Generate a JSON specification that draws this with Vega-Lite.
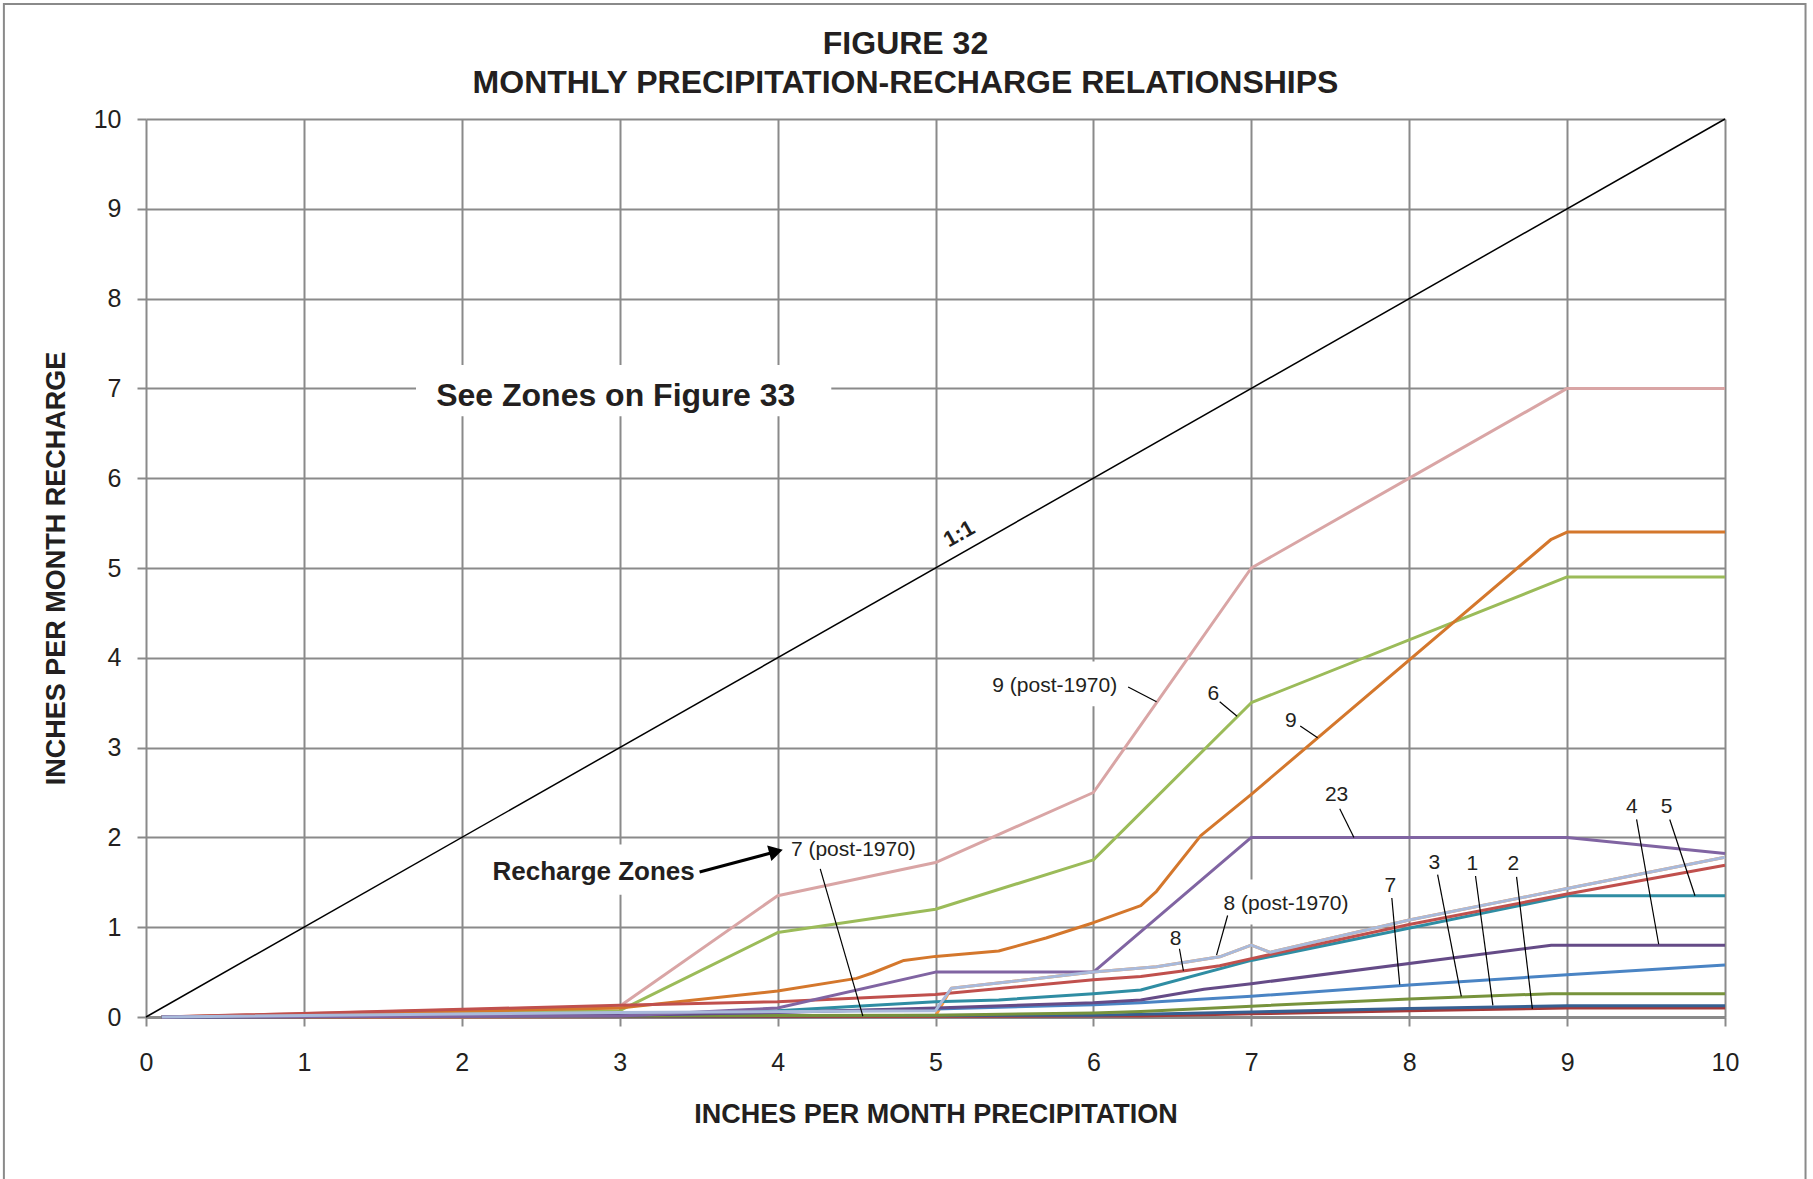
{
  "$schema": "https://vega.github.io/schema/vega-lite/v6.json",
  "width": 1579,
  "height": 898,
  "autosize": {"type": "none"},
  "padding": {"left": 146, "top": 119, "right": 88, "bottom": 162},
  "background": "white",
  "title": {
    "text": ["FIGURE 32", "MONTHLY PRECIPITATION-RECHARGE RELATIONSHIPS"],
    "font": "Liberation Sans",
    "fontSize": 32,
    "fontWeight": "bold",
    "lineHeight": 39,
    "color": "#231f20",
    "anchor": "middle",
    "baseline": "bottom",
    "dx": -30,
    "offset": -129
  },
  "config": {
    "view": {"stroke": null},
    "font": "Liberation Sans",
    "axis": {
      "grid": true,
      "gridColor": "#8a8a8a",
      "gridWidth": 2,
      "tickColor": "#8a8a8a",
      "tickWidth": 2,
      "tickSize": 9,
      "labelFontSize": 25,
      "labelColor": "#231f20",
      "labelFont": "Liberation Sans",
      "titleFont": "Liberation Sans",
      "titleFontSize": 27,
      "titleFontWeight": "bold",
      "titleColor": "#231f20",
      "labelFlush": false,
      "labelOverlap": false
    }
  },
  "datasets": {
    "curves": [
      {"zone": "7 (post-1970)", "precipitation": 0.1, "recharge": 0},
      {"zone": "7 (post-1970)", "precipitation": 3, "recharge": 0.005},
      {"zone": "7 (post-1970)", "precipitation": 5, "recharge": 0.01},
      {"zone": "7 (post-1970)", "precipitation": 5.1, "recharge": 0.32},
      {"zone": "7 (post-1970)", "precipitation": 6, "recharge": 0.5},
      {"zone": "7 (post-1970)", "precipitation": 6.4, "recharge": 0.56},
      {"zone": "7 (post-1970)", "precipitation": 6.8, "recharge": 0.67},
      {"zone": "7 (post-1970)", "precipitation": 7, "recharge": 0.8},
      {"zone": "7 (post-1970)", "precipitation": 7.12, "recharge": 0.72},
      {"zone": "7 (post-1970)", "precipitation": 8, "recharge": 1.08},
      {"zone": "7 (post-1970)", "precipitation": 9, "recharge": 1.43},
      {"zone": "7 (post-1970)", "precipitation": 10, "recharge": 1.78},

      {"zone": "9 (post-1970)", "precipitation": 0.1, "recharge": 0},
      {"zone": "9 (post-1970)", "precipitation": 3, "recharge": 0.12},
      {"zone": "9 (post-1970)", "precipitation": 4, "recharge": 1.35},
      {"zone": "9 (post-1970)", "precipitation": 5, "recharge": 1.72},
      {"zone": "9 (post-1970)", "precipitation": 6, "recharge": 2.5},
      {"zone": "9 (post-1970)", "precipitation": 7, "recharge": 5.0},
      {"zone": "9 (post-1970)", "precipitation": 9, "recharge": 7.0},
      {"zone": "9 (post-1970)", "precipitation": 10, "recharge": 7.0},

      {"zone": "6", "precipitation": 0.1, "recharge": 0},
      {"zone": "6", "precipitation": 3, "recharge": 0.07},
      {"zone": "6", "precipitation": 4, "recharge": 0.94},
      {"zone": "6", "precipitation": 5, "recharge": 1.2},
      {"zone": "6", "precipitation": 6, "recharge": 1.75},
      {"zone": "6", "precipitation": 7, "recharge": 3.5},
      {"zone": "6", "precipitation": 9, "recharge": 4.9},
      {"zone": "6", "precipitation": 10, "recharge": 4.9},

      {"zone": "9", "precipitation": 0.1, "recharge": 0},
      {"zone": "9", "precipitation": 3, "recharge": 0.1},
      {"zone": "9", "precipitation": 4, "recharge": 0.29},
      {"zone": "9", "precipitation": 4.5, "recharge": 0.43},
      {"zone": "9", "precipitation": 4.6, "recharge": 0.49},
      {"zone": "9", "precipitation": 4.8, "recharge": 0.63},
      {"zone": "9", "precipitation": 5, "recharge": 0.675},
      {"zone": "9", "precipitation": 5.4, "recharge": 0.735},
      {"zone": "9", "precipitation": 5.7, "recharge": 0.88},
      {"zone": "9", "precipitation": 6, "recharge": 1.05},
      {"zone": "9", "precipitation": 6.3, "recharge": 1.24},
      {"zone": "9", "precipitation": 6.4, "recharge": 1.4},
      {"zone": "9", "precipitation": 6.68, "recharge": 2.02},
      {"zone": "9", "precipitation": 7, "recharge": 2.48},
      {"zone": "9", "precipitation": 8.9, "recharge": 5.32},
      {"zone": "9", "precipitation": 9, "recharge": 5.4},
      {"zone": "9", "precipitation": 10, "recharge": 5.4},

      {"zone": "2", "precipitation": 0.1, "recharge": 0},
      {"zone": "2", "precipitation": 6, "recharge": 0.01},
      {"zone": "2", "precipitation": 6.3, "recharge": 0.012},
      {"zone": "2", "precipitation": 7, "recharge": 0.035},
      {"zone": "2", "precipitation": 8, "recharge": 0.07},
      {"zone": "2", "precipitation": 9, "recharge": 0.1},
      {"zone": "2", "precipitation": 10, "recharge": 0.1},

      {"zone": "1", "precipitation": 0.1, "recharge": 0},
      {"zone": "1", "precipitation": 6, "recharge": 0.02},
      {"zone": "1", "precipitation": 7, "recharge": 0.055},
      {"zone": "1", "precipitation": 8, "recharge": 0.096},
      {"zone": "1", "precipitation": 9, "recharge": 0.126},
      {"zone": "1", "precipitation": 10, "recharge": 0.126},

      {"zone": "3", "precipitation": 0.1, "recharge": 0},
      {"zone": "3", "precipitation": 5, "recharge": 0.02},
      {"zone": "3", "precipitation": 6, "recharge": 0.045},
      {"zone": "3", "precipitation": 6.3, "recharge": 0.06},
      {"zone": "3", "precipitation": 7, "recharge": 0.12},
      {"zone": "3", "precipitation": 8, "recharge": 0.2},
      {"zone": "3", "precipitation": 8.9, "recharge": 0.26},
      {"zone": "3", "precipitation": 10, "recharge": 0.26},

      {"zone": "7", "precipitation": 0.1, "recharge": 0},
      {"zone": "7", "precipitation": 3, "recharge": 0.02},
      {"zone": "7", "precipitation": 5, "recharge": 0.09},
      {"zone": "7", "precipitation": 6, "recharge": 0.137},
      {"zone": "7", "precipitation": 6.3, "recharge": 0.16},
      {"zone": "7", "precipitation": 7, "recharge": 0.23},
      {"zone": "7", "precipitation": 8, "recharge": 0.356},
      {"zone": "7", "precipitation": 9, "recharge": 0.47},
      {"zone": "7", "precipitation": 10, "recharge": 0.58},

      {"zone": "5", "precipitation": 0.1, "recharge": 0},
      {"zone": "5", "precipitation": 3, "recharge": 0.03},
      {"zone": "5", "precipitation": 4, "recharge": 0.07},
      {"zone": "5", "precipitation": 5, "recharge": 0.17},
      {"zone": "5", "precipitation": 5.4, "recharge": 0.19},
      {"zone": "5", "precipitation": 6, "recharge": 0.26},
      {"zone": "5", "precipitation": 6.3, "recharge": 0.3},
      {"zone": "5", "precipitation": 7, "recharge": 0.63},
      {"zone": "5", "precipitation": 9, "recharge": 1.35},
      {"zone": "5", "precipitation": 10, "recharge": 1.35},

      {"zone": "8", "precipitation": 0.1, "recharge": 0},
      {"zone": "8", "precipitation": 3, "recharge": 0.13},
      {"zone": "8", "precipitation": 4, "recharge": 0.17},
      {"zone": "8", "precipitation": 5, "recharge": 0.25},
      {"zone": "8", "precipitation": 6, "recharge": 0.415},
      {"zone": "8", "precipitation": 6.3, "recharge": 0.45},
      {"zone": "8", "precipitation": 6.6, "recharge": 0.52},
      {"zone": "8", "precipitation": 6.8, "recharge": 0.57},
      {"zone": "8", "precipitation": 7, "recharge": 0.65},
      {"zone": "8", "precipitation": 8, "recharge": 1.03},
      {"zone": "8", "precipitation": 9, "recharge": 1.37},
      {"zone": "8", "precipitation": 10, "recharge": 1.69},

      {"zone": "4", "precipitation": 0.1, "recharge": 0},
      {"zone": "4", "precipitation": 3, "recharge": 0.02},
      {"zone": "4", "precipitation": 4, "recharge": 0.05},
      {"zone": "4", "precipitation": 5, "recharge": 0.1},
      {"zone": "4", "precipitation": 6, "recharge": 0.16},
      {"zone": "4", "precipitation": 6.3, "recharge": 0.19},
      {"zone": "4", "precipitation": 6.7, "recharge": 0.31},
      {"zone": "4", "precipitation": 7, "recharge": 0.37},
      {"zone": "4", "precipitation": 8.9, "recharge": 0.8},
      {"zone": "4", "precipitation": 10, "recharge": 0.8},

      {"zone": "23", "precipitation": 0.1, "recharge": 0},
      {"zone": "23", "precipitation": 3, "recharge": 0.01},
      {"zone": "23", "precipitation": 4, "recharge": 0.1},
      {"zone": "23", "precipitation": 5, "recharge": 0.5},
      {"zone": "23", "precipitation": 6, "recharge": 0.5},
      {"zone": "23", "precipitation": 7, "recharge": 2.0},
      {"zone": "23", "precipitation": 9, "recharge": 2.0},
      {"zone": "23", "precipitation": 10, "recharge": 1.82},

      {"zone": "8 (post-1970)", "precipitation": 0.1, "recharge": 0},
      {"zone": "8 (post-1970)", "precipitation": 3, "recharge": 0.05},
      {"zone": "8 (post-1970)", "precipitation": 5, "recharge": 0.07},
      {"zone": "8 (post-1970)", "precipitation": 5.1, "recharge": 0.32},
      {"zone": "8 (post-1970)", "precipitation": 6, "recharge": 0.5},
      {"zone": "8 (post-1970)", "precipitation": 6.4, "recharge": 0.56},
      {"zone": "8 (post-1970)", "precipitation": 6.8, "recharge": 0.67},
      {"zone": "8 (post-1970)", "precipitation": 7, "recharge": 0.8},
      {"zone": "8 (post-1970)", "precipitation": 7.12, "recharge": 0.72},
      {"zone": "8 (post-1970)", "precipitation": 8, "recharge": 1.08},
      {"zone": "8 (post-1970)", "precipitation": 9, "recharge": 1.43},
      {"zone": "8 (post-1970)", "precipitation": 10, "recharge": 1.78}
    ],
    "oneToOne": [
      {"precipitation": 0, "recharge": 0},
      {"precipitation": 10, "recharge": 10}
    ],
    "frame": [
      {"precipitation": -0.9, "precipitation2": 10.51, "recharge": -2.2, "recharge2": 11.28}
    ],
    "labelBoxes": [
      {"label": "See Zones on Figure 33", "precipitation": 1.71, "precipitation2": 4.34, "recharge": 6.69, "recharge2": 7.26},
      {"label": "Recharge Zones", "precipitation": 2.12, "precipitation2": 3.48, "recharge": 1.36, "recharge2": 1.92},
      {"label": "9 (post-1970)", "precipitation": 5.3, "precipitation2": 6.21, "recharge": 3.46, "recharge2": 3.96},
      {"label": "8 (post-1970)", "precipitation": 6.8, "precipitation2": 7.66, "recharge": 1.03, "recharge2": 1.53}
    ],
    "leaders": [
      {"label": "9 (post-1970)", "precipitation": 6.22, "recharge": 3.675, "precipitation2": 6.4, "recharge2": 3.51},
      {"label": "6", "precipitation": 6.8, "recharge": 3.51, "precipitation2": 6.91, "recharge2": 3.35},
      {"label": "9", "precipitation": 7.31, "recharge": 3.24, "precipitation2": 7.42, "recharge2": 3.11},
      {"label": "23", "precipitation": 7.56, "recharge": 2.32, "precipitation2": 7.65, "recharge2": 2.0},
      {"label": "4", "precipitation": 9.44, "recharge": 2.2, "precipitation2": 9.58, "recharge2": 0.81},
      {"label": "5", "precipitation": 9.65, "recharge": 2.2, "precipitation2": 9.81, "recharge2": 1.35},
      {"label": "3", "precipitation": 8.18, "recharge": 1.585, "precipitation2": 8.33, "recharge2": 0.23},
      {"label": "1", "precipitation": 8.42, "recharge": 1.57, "precipitation2": 8.53, "recharge2": 0.13},
      {"label": "2", "precipitation": 8.68, "recharge": 1.56, "precipitation2": 8.78, "recharge2": 0.09},
      {"label": "7", "precipitation": 7.89, "recharge": 1.325, "precipitation2": 7.94, "recharge2": 0.36},
      {"label": "8 (post-1970)", "precipitation": 6.85, "recharge": 1.13, "precipitation2": 6.78, "recharge2": 0.69},
      {"label": "8", "precipitation": 6.545, "recharge": 0.76, "precipitation2": 6.57, "recharge2": 0.515},
      {"label": "7 (post-1970)", "precipitation": 4.27, "recharge": 1.65, "precipitation2": 4.54, "recharge2": 0.01}
    ],
    "arrowShaft": [
      {"precipitation": 3.506, "recharge": 1.615, "precipitation2": 3.97, "recharge2": 1.832}
    ],
    "arrowHead": [
      {"precipitation": 3.99, "recharge": 1.843}
    ],
    "zoneLabels": [
      {"text": "9 (post-1970)", "precipitation": 5.755, "recharge": 3.69},
      {"text": "6", "precipitation": 6.76, "recharge": 3.6},
      {"text": "9", "precipitation": 7.25, "recharge": 3.3},
      {"text": "23", "precipitation": 7.54, "recharge": 2.475},
      {"text": "7 (post-1970)", "precipitation": 4.48, "recharge": 1.86},
      {"text": "8 (post-1970)", "precipitation": 7.22, "recharge": 1.26},
      {"text": "8", "precipitation": 6.52, "recharge": 0.87},
      {"text": "7", "precipitation": 7.88, "recharge": 1.46},
      {"text": "3", "precipitation": 8.16, "recharge": 1.71},
      {"text": "1", "precipitation": 8.4, "recharge": 1.7},
      {"text": "2", "precipitation": 8.66, "recharge": 1.7},
      {"text": "4", "precipitation": 9.41, "recharge": 2.34},
      {"text": "5", "precipitation": 9.63, "recharge": 2.34}
    ],
    "notes": [
      {"text": "See Zones on Figure 33", "precipitation": 2.975, "recharge": 6.91},
      {"text": "Recharge Zones", "precipitation": 2.835, "recharge": 1.62}
    ],
    "ratioLabel": [
      {"text": "1:1", "precipitation": 5.15, "recharge": 5.38}
    ]
  },
  "encoding": {
    "x": {
      "field": "precipitation",
      "type": "quantitative",
      "scale": {"domain": [0, 10], "nice": false, "zero": false},
      "axis": {
        "title": "INCHES PER MONTH PRECIPITATION",
        "values": [0, 1, 2, 3, 4, 5, 6, 7, 8, 9, 10],
        "labelPadding": 24,
        "titlePadding": 26,
        "domainColor": "#8a8a8a",
        "domainWidth": 3
      }
    },
    "y": {
      "field": "recharge",
      "type": "quantitative",
      "scale": {"domain": [0, 10], "nice": false, "zero": false},
      "axis": {
        "title": "INCHES PER MONTH RECHARGE",
        "values": [0, 1, 2, 3, 4, 5, 6, 7, 8, 9, 10],
        "labelPadding": 16,
        "titlePadding": 23,
        "domain": false
      }
    }
  },
  "layer": [
    {
      "data": {"name": "frame"},
      "mark": {"type": "rect", "fill": null, "stroke": "#8a8a8a", "strokeWidth": 2},
      "encoding": {
        "x2": {"field": "precipitation2"},
        "y2": {"field": "recharge2"}
      }
    },
    {
      "data": {"name": "labelBoxes"},
      "mark": {"type": "rect", "fill": "white", "stroke": null},
      "encoding": {
        "x2": {"field": "precipitation2"},
        "y2": {"field": "recharge2"}
      }
    },
    {
      "data": {"name": "oneToOne"},
      "mark": {"type": "line", "color": "black", "strokeWidth": 1.5},
      "encoding": {}
    },
    {
      "data": {"name": "curves"},
      "mark": {"type": "line", "strokeWidth": 3, "strokeJoin": "round"},
      "encoding": {
        "color": {
          "field": "zone",
          "type": "nominal",
          "legend": null,
          "scale": {
            "domain": ["7 (post-1970)", "9 (post-1970)", "6", "9", "2", "1", "3", "7", "5", "8", "4", "23", "8 (post-1970)"],
            "range": ["#f7963f", "#d9a5a5", "#9bbb59", "#d4772c", "#a53a3a", "#366092", "#77933c", "#4a84c4", "#2f8da3", "#c0504d", "#654b87", "#8064a2", "#a9badb"]
          }
        }
      }
    },
    {
      "data": {"name": "leaders"},
      "mark": {"type": "rule", "color": "black", "strokeWidth": 1.2},
      "encoding": {
        "x2": {"field": "precipitation2"},
        "y2": {"field": "recharge2"}
      }
    },
    {
      "data": {"name": "arrowShaft"},
      "mark": {"type": "rule", "color": "black", "strokeWidth": 3},
      "encoding": {
        "x2": {"field": "precipitation2"},
        "y2": {"field": "recharge2"}
      }
    },
    {
      "data": {"name": "arrowHead"},
      "mark": {"type": "point", "shape": "triangle-right", "filled": true, "color": "black", "size": 260, "angle": -15, "opacity": 1},
      "encoding": {}
    },
    {
      "data": {"name": "zoneLabels"},
      "mark": {"type": "text", "fontSize": 21, "color": "#231f20", "align": "center", "baseline": "middle", "font": "Liberation Sans"},
      "encoding": {"text": {"field": "text"}}
    },
    {
      "data": {"name": "notes"},
      "mark": {"type": "text", "fontWeight": "bold", "color": "#231f20", "align": "center", "baseline": "middle", "font": "Liberation Sans"},
      "encoding": {
        "text": {"field": "text"},
        "size": {"field": "text", "type": "nominal", "legend": null, "scale": {"domain": ["See Zones on Figure 33", "Recharge Zones"], "range": [32, 26]}}
      }
    },
    {
      "data": {"name": "ratioLabel"},
      "mark": {"type": "text", "fontWeight": "bold", "fontSize": 22, "angle": -29.6, "color": "#231f20", "align": "center", "baseline": "middle", "font": "Liberation Sans"},
      "encoding": {"text": {"field": "text"}}
    }
  ]
}
